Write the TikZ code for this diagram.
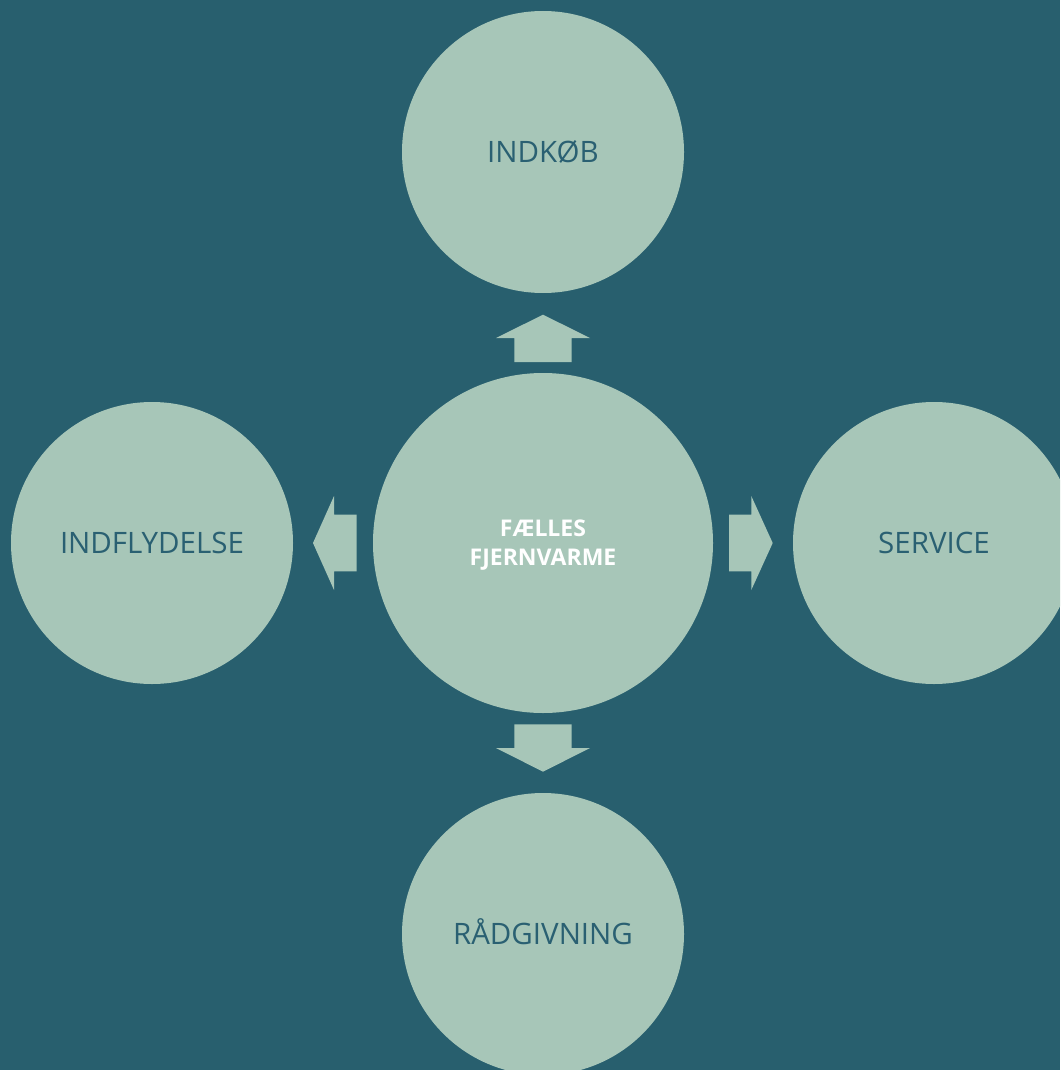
\documentclass[tikz,border=0pt]{standalone}
\usepackage{fontspec}
\setmainfont{Open Sans}
\definecolor{bgteal}{HTML}{285F6E}
\definecolor{sage}{HTML}{A7C6B8}
\definecolor{txtteal}{HTML}{2A6072}
\begin{document}
\begin{tikzpicture}[x=1pt,y=-1pt,
  outer/.style={circle,fill=sage,inner sep=0pt,minimum size=282pt,text=txtteal,
    font=\fontsize{29.5}{36}\selectfont,text height=21.1pt,text depth=0pt},
  hub/.style={circle,fill=sage,inner sep=0pt,minimum size=340pt,text=white,align=center,
    font=\fontsize{23}{29.5}\selectfont\bfseries,text height=45.9pt,text depth=0pt},
  arrowshape/.style={fill=sage,draw=none}]
\fill[bgteal] (0,0) rectangle (1060,1070);
\useasboundingbox (0,0) rectangle (1060,1070);
\clip (0,0) rectangle (1060,1070);
\node[hub] (c) at (543,543) {FÆLLES\\FJERNVARME};
\node[outer] (t) at (543,152) {INDKØB};
\node[outer] (l) at (152,543) {INDFLYDELSE};
\node[outer] (r) at (934,543) {SERVICE};
\node[outer] (b) at (543,934) {RÅDGIVNING};
% up arrow
\fill[arrowshape] (514.3,362) -- (514.3,338) -- (496,338) -- (543,314.7) -- (590,338) -- (571.7,338) -- (571.7,362) -- cycle;
% down arrow
\fill[arrowshape] (514.3,724.3) -- (514.3,748) -- (496,748) -- (543,771.7) -- (590,748) -- (571.7,748) -- (571.7,724.3) -- cycle;
% left arrow
\fill[arrowshape] (356.7,514.7) -- (334,514.7) -- (334,496) -- (313,543) -- (334,590) -- (334,571.3) -- (356.7,571.3) -- cycle;
% right arrow
\fill[arrowshape] (729,514.7) -- (751.3,514.7) -- (751.3,496) -- (772.7,543) -- (751.3,590) -- (751.3,571.3) -- (729,571.3) -- cycle;
\end{tikzpicture}
\end{document}
